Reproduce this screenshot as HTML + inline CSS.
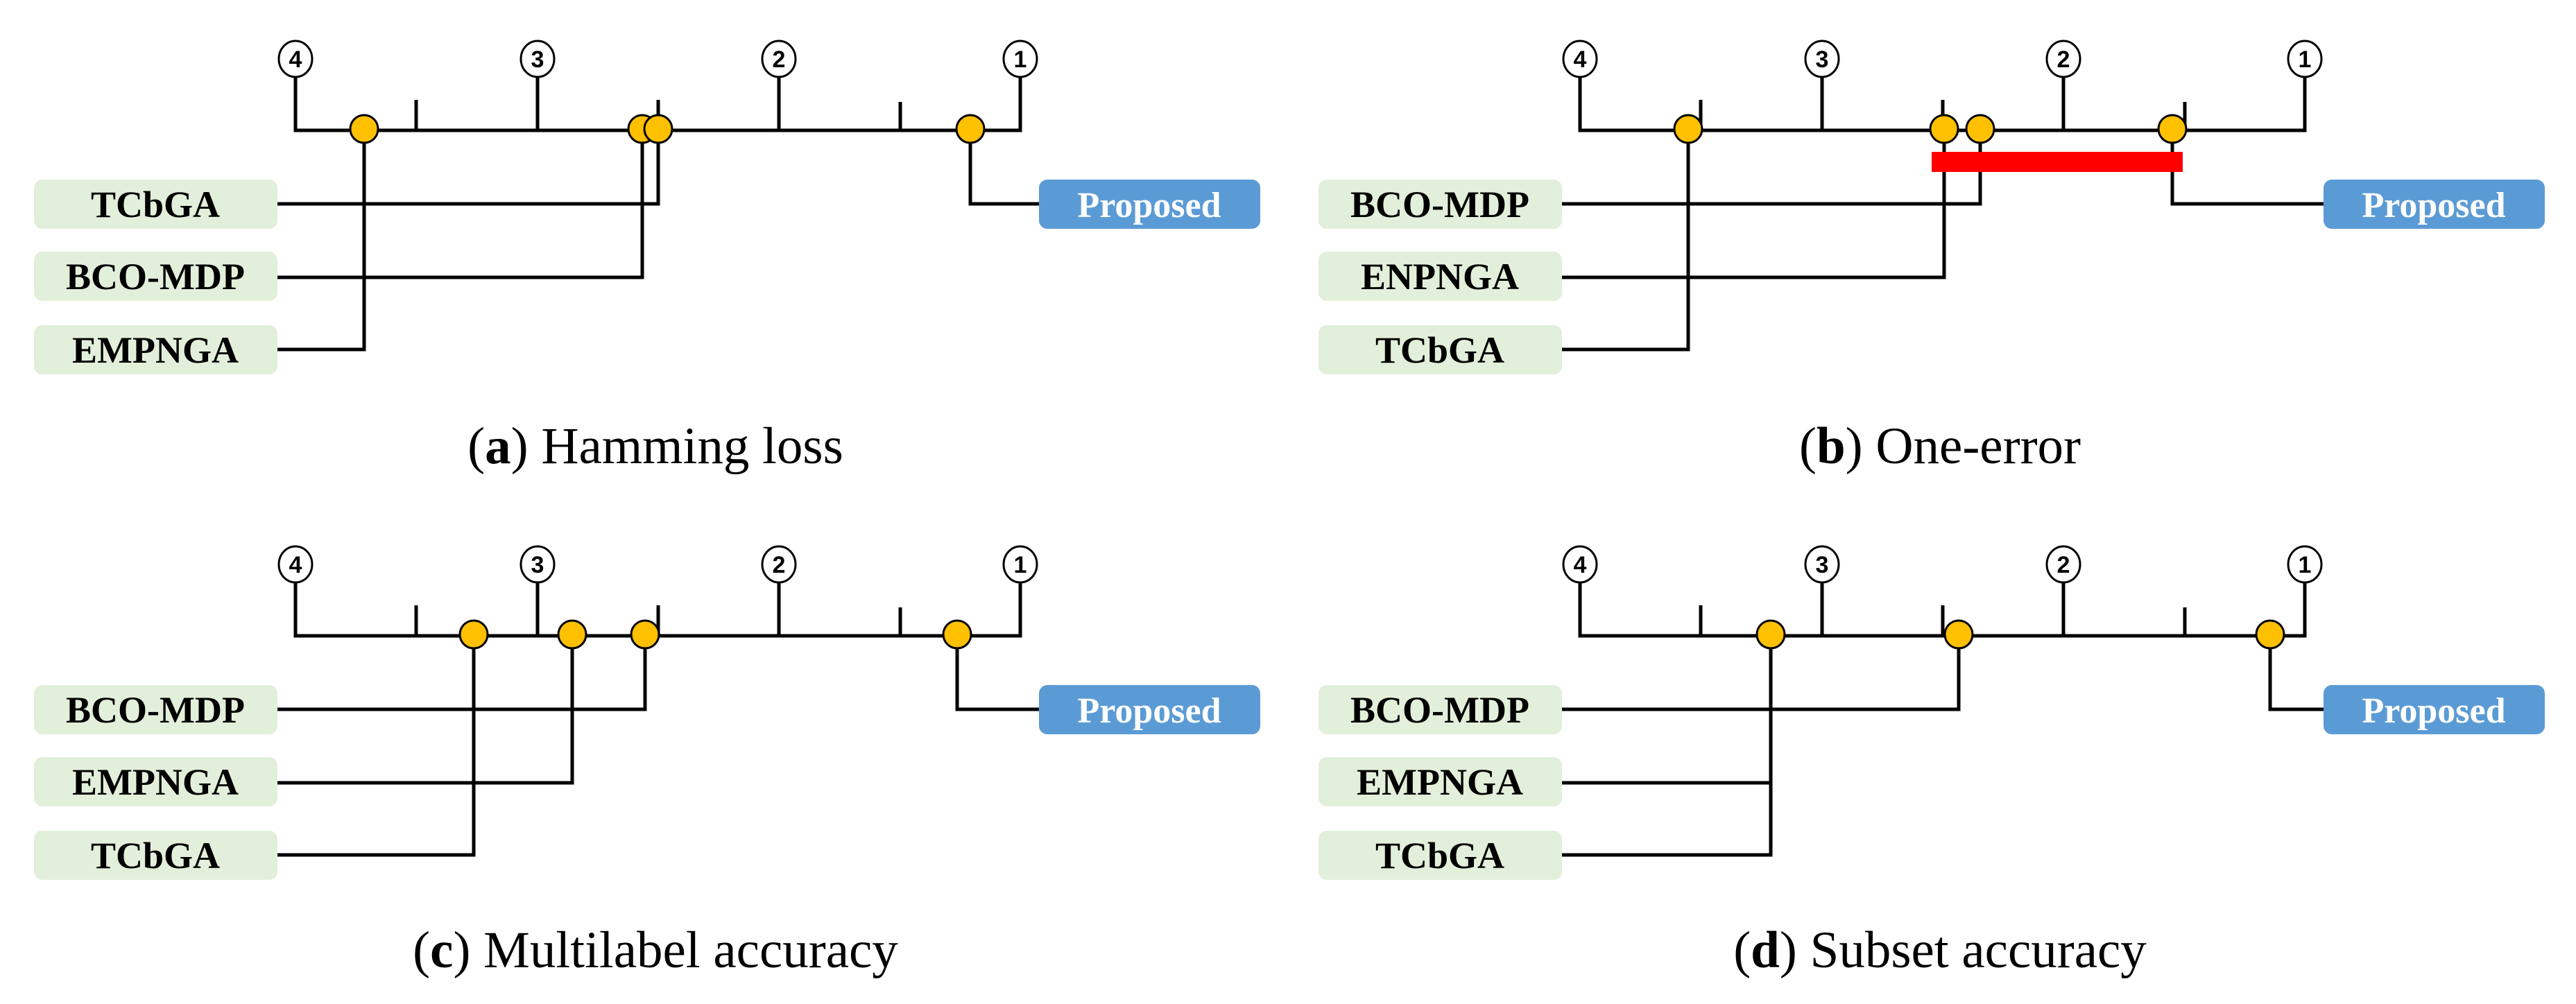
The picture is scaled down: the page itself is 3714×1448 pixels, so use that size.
<!DOCTYPE html>
<html><head><meta charset="utf-8"><style>html,body{margin:0;padding:0;background:#fff}svg{display:block}</style></head>
<body>
<svg width="3714" height="1448" viewBox="0 0 3714 1448" xmlns="http://www.w3.org/2000/svg">
<defs>
<g id="axis">
  <g stroke="#000" stroke-width="5" fill="none">
    <polyline points="426,110 426,188 1471,188 1471,110"/>
    <line x1="775" y1="110" x2="775" y2="188"/>
    <line x1="1123" y1="110" x2="1123" y2="188"/>
    <line x1="600" y1="144" x2="600" y2="188"/>
    <line x1="949" y1="144" x2="949" y2="188"/>
    <line x1="1298" y1="147" x2="1298" y2="188"/>
  </g>
  <g stroke="#000" stroke-width="3" fill="#fff">
    <ellipse cx="426" cy="85" rx="24" ry="26"/>
    <ellipse cx="775" cy="85" rx="24" ry="26"/>
    <ellipse cx="1123" cy="85" rx="24" ry="26"/>
    <ellipse cx="1471" cy="85" rx="24" ry="26"/>
  </g>
  <g font-family="Liberation Sans, sans-serif" font-weight="bold" font-size="34" text-anchor="middle">
    <text x="426" y="97">4</text><text x="775" y="97">3</text><text x="1123" y="97">2</text><text x="1471" y="97">1</text>
  </g>
  <g fill="#e2efda">
    <rect x="49" y="259" width="351" height="71" rx="12"/>
    <rect x="49" y="363" width="351" height="71" rx="12"/>
    <rect x="49" y="469" width="351" height="71" rx="12"/>
  </g>
  <rect x="1498" y="259" width="319" height="71" rx="12" fill="#5b9bd5"/>
  <text x="1657" y="313" font-family="Liberation Serif, serif" font-weight="bold" font-size="52" fill="#fff" text-anchor="middle">Proposed</text>
</g>
</defs>

<g>
  <use href="#axis"/>
  <g font-family="Liberation Serif, serif" font-weight="bold" font-size="54" text-anchor="middle">
    <text x="224" y="313">TCbGA</text><text x="224" y="417">BCO-MDP</text><text x="224" y="523">EMPNGA</text>
  </g>
  <g stroke="#000" stroke-width="5" fill="none">
    <polyline points="400,294 949,294 949,188"/>
    <polyline points="400,400 926,400 926,188"/>
    <polyline points="400,504 525,504 525,188"/>
    <polyline points="1498,294 1399,294 1399,188"/>
  </g>
  <g fill="#ffc000" stroke="#000" stroke-width="3">
    <circle cx="525" cy="186" r="20"/><circle cx="926" cy="186" r="20"/><circle cx="949" cy="186" r="20"/><circle cx="1399" cy="186" r="20"/>
  </g>
  <text x="945" y="668" font-family="Liberation Serif, serif" font-size="75" text-anchor="middle">(<tspan font-weight="bold">a</tspan>) Hamming loss</text>
</g>

<g transform="translate(1852,0)">
  <use href="#axis"/>
  <g font-family="Liberation Serif, serif" font-weight="bold" font-size="54" text-anchor="middle">
    <text x="224" y="313">BCO-MDP</text><text x="224" y="417">ENPNGA</text><text x="224" y="523">TCbGA</text>
  </g>
  <g stroke="#000" stroke-width="5" fill="none">
    <polyline points="400,294 1003,294 1003,188"/>
    <polyline points="400,400 951,400 951,188"/>
    <polyline points="400,504 582,504 582,188"/>
    <polyline points="1498,294 1280,294 1280,188"/>
  </g>
  <rect x="933" y="219" width="362" height="29" fill="#ff0000"/>
  <g fill="#ffc000" stroke="#000" stroke-width="3">
    <circle cx="582" cy="186" r="20"/><circle cx="951" cy="186" r="20"/><circle cx="1003" cy="186" r="20"/><circle cx="1280" cy="186" r="20"/>
  </g>
  <text x="945" y="668" font-family="Liberation Serif, serif" font-size="75" text-anchor="middle">(<tspan font-weight="bold">b</tspan>) One-error</text>
</g>

<g transform="translate(0,729)">
  <use href="#axis"/>
  <g font-family="Liberation Serif, serif" font-weight="bold" font-size="54" text-anchor="middle">
    <text x="224" y="313">BCO-MDP</text><text x="224" y="417">EMPNGA</text><text x="224" y="523">TCbGA</text>
  </g>
  <g stroke="#000" stroke-width="5" fill="none">
    <polyline points="400,294 930,294 930,188"/>
    <polyline points="400,400 825,400 825,188"/>
    <polyline points="400,504 683,504 683,188"/>
    <polyline points="1498,294 1380,294 1380,188"/>
  </g>
  <g fill="#ffc000" stroke="#000" stroke-width="3">
    <circle cx="683" cy="186" r="20"/><circle cx="825" cy="186" r="20"/><circle cx="930" cy="186" r="20"/><circle cx="1380" cy="186" r="20"/>
  </g>
  <text x="945" y="666" font-family="Liberation Serif, serif" font-size="75" text-anchor="middle">(<tspan font-weight="bold">c</tspan>) Multilabel accuracy</text>
</g>

<g transform="translate(1852,729)">
  <use href="#axis"/>
  <g font-family="Liberation Serif, serif" font-weight="bold" font-size="54" text-anchor="middle">
    <text x="224" y="313">BCO-MDP</text><text x="224" y="417">EMPNGA</text><text x="224" y="523">TCbGA</text>
  </g>
  <g stroke="#000" stroke-width="5" fill="none">
    <polyline points="400,294 972,294 972,188"/>
    <polyline points="400,400 701,400"/>
    <polyline points="400,504 701,504 701,188"/>
    <polyline points="1498,294 1421,294 1421,188"/>
  </g>
  <g fill="#ffc000" stroke="#000" stroke-width="3">
    <circle cx="701" cy="186" r="20"/><circle cx="972" cy="186" r="20"/><circle cx="1421" cy="186" r="20"/>
  </g>
  <text x="945" y="666" font-family="Liberation Serif, serif" font-size="75" text-anchor="middle">(<tspan font-weight="bold">d</tspan>) Subset accuracy</text>
</g>
</svg>
</body></html>
